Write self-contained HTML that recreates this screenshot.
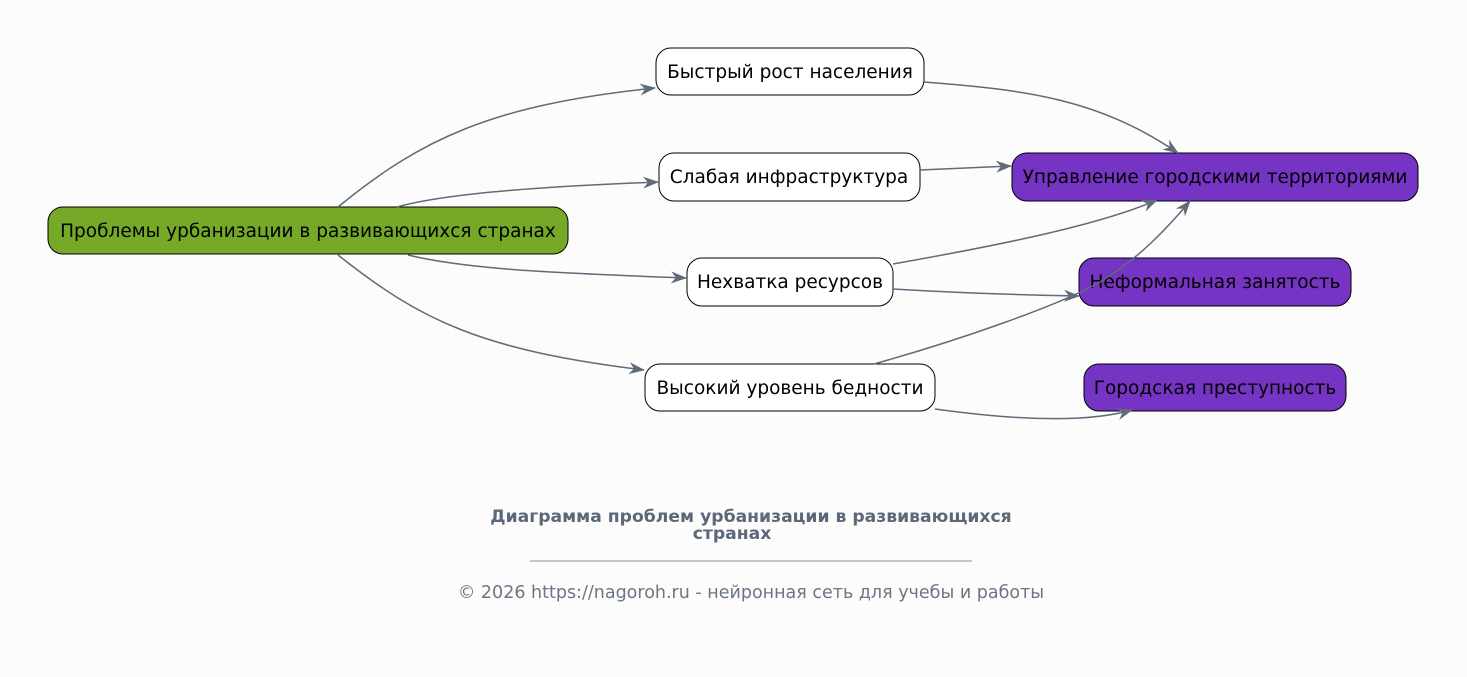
<!DOCTYPE html>
<html><head><meta charset="utf-8"><style>
html,body{margin:0;padding:0;background:#fcfcfc;}
svg{display:block;}
text{font-family:"DejaVu Sans","Liberation Sans",sans-serif;}
</style></head><body>
<svg width="1467" height="677" viewBox="0 0 1467 677" xmlns="http://www.w3.org/2000/svg">
<defs>
<marker id="a" viewBox="0 0 16 12" refX="15" refY="6" markerWidth="16" markerHeight="12" markerUnits="userSpaceOnUse" orient="auto">
<path d="M0,0 L16,6 L0,12 L5,6 Z" fill="#5f6b7a"/>
</marker>
</defs>
<rect width="1467" height="677" fill="#fcfcfc"/>
<g stroke="#000" stroke-width="1">
<rect x="48" y="207" width="520" height="47" rx="15" fill="#76a928"/>
<rect x="656" y="48" width="268" height="47" rx="15" fill="#fff"/>
<rect x="659" y="153" width="261" height="48" rx="15" fill="#fff"/>
<rect x="687" y="258" width="206" height="48" rx="15" fill="#fff"/>
<rect x="645" y="364" width="290" height="47" rx="15" fill="#fff"/>
<rect x="1012" y="153" width="406" height="48" rx="15" fill="#7634c4"/>
<rect x="1079" y="258" width="272" height="48" rx="15" fill="#7634c4"/>
<rect x="1084" y="364" width="262" height="47" rx="15" fill="#7634c4"/>
</g>
<g font-size="18.5" fill="#000" text-anchor="middle">
<text x="308" y="237">Проблемы урбанизации в развивающихся странах</text>
<text x="790" y="78">Быстрый рост населения</text>
<text x="789" y="183">Слабая инфраструктура</text>
<text x="790" y="288">Нехватка ресурсов</text>
<text x="790" y="394">Высокий уровень бедности</text>
<text x="1215" y="183">Управление городскими территориями</text>
<text x="1215" y="288">Неформальная занятость</text>
<text x="1215" y="394">Городская преступность</text>
</g>
<g fill="none" stroke="#5f6b7a" stroke-width="1.5" marker-end="url(#a)">
<path d="M338,207 C420,140 490,105 655,88"/>
<path d="M397,207 C450,192 560,186 658,182"/>
<path d="M408,255 C470,270 560,273 686,278"/>
<path d="M338,255 C420,320 480,350 644,370"/>
<path d="M924,82 C1030,90 1100,100 1178,153"/>
<path d="M920,170 L1011,166"/>
<path d="M893,264 C1000,245 1100,225 1157,200"/>
<path d="M893,289 C960,293 1020,295 1079,296"/>
<path d="M874,364 C960,340 1060,305 1100,282 C1140,258 1170,225 1190,201"/>
<path d="M935,409 C1000,418 1080,425 1132,410"/>
</g>
<g text-anchor="middle">
<text x="751" y="522" font-size="17.2" font-weight="bold" fill="#5a6878">Диаграмма проблем урбанизации в развивающихся</text>
<text x="732" y="539" font-size="17.2" font-weight="bold" fill="#5a6878">странах</text>
<line x1="530" y1="561" x2="972" y2="561" stroke="#8a929c" stroke-width="1"/>
<text x="751" y="598" font-size="17.5" fill="#6b7685">© 2026 https://nagoroh.ru - нейронная сеть для учебы и работы</text>
</g>
</svg>
</body></html>
